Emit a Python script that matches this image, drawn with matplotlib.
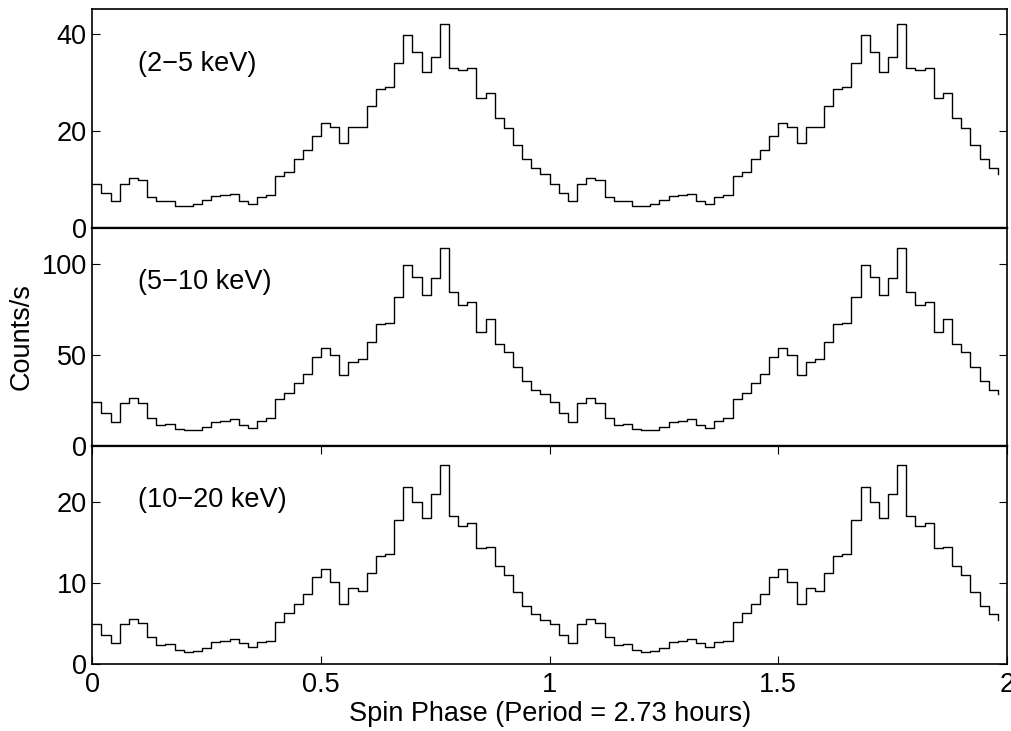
import numpy as np
import matplotlib
matplotlib.use("Agg")
import matplotlib.pyplot as plt

plt.rcParams['font.family'] = ['Liberation Sans', 'DejaVu Sans']

# Folded light curves: 50 phase bins per cycle (bin width 0.02), shown for two cycles
bin_width = 0.02
n_bins = 50

rate_2_5 = [9.0, 7.2, 5.5, 9.0, 10.3, 9.7, 6.3, 5.5, 5.4, 4.4,
            4.5, 4.8, 5.7, 6.6, 6.8, 7.0, 5.4, 4.8, 6.3, 6.8,
            10.7, 11.5, 14.1, 15.9, 18.8, 21.5, 20.8, 17.5, 20.7, 20.8,
            25.0, 28.6, 29.0, 33.9, 39.7, 36.2, 32.1, 35.1, 42.0, 32.8,
            32.5, 32.8, 26.8, 27.7, 22.6, 20.6, 17.0, 14.1, 12.2, 11.0]

rate_5_10 = [24.0, 18.1, 13.3, 23.4, 26.4, 23.4, 15.5, 11.6, 11.8, 9.2,
             8.9, 8.9, 10.3, 13.3, 13.7, 14.8, 11.6, 10.0, 13.5, 15.1,
             25.5, 29.0, 34.7, 39.5, 48.7, 53.9, 50.0, 38.7, 46.3, 47.6,
             57.0, 66.8, 67.5, 81.7, 99.3, 92.6, 82.7, 92.3, 108.9, 84.7,
             77.5, 79.3, 62.5, 69.9, 56.1, 51.3, 43.5, 35.4, 30.6, 28.4]

rate_10_20 = [5.0, 3.6, 2.6, 4.9, 5.6, 5.1, 3.3, 2.3, 2.5, 1.7,
              1.5, 1.6, 2.0, 2.7, 2.8, 3.1, 2.6, 2.1, 2.7, 2.9,
              5.2, 6.3, 7.4, 8.6, 10.8, 11.7, 10.1, 7.4, 9.4, 9.0,
              11.3, 13.4, 13.6, 17.8, 21.9, 20.1, 18.1, 21.0, 24.6, 18.3,
              17.1, 17.5, 14.3, 14.5, 12.1, 11.0, 8.9, 7.2, 6.2, 5.5]

bands = ["(2\u22125 keV)", "(5\u221210 keV)", "(10\u221220 keV)"]
series = [rate_2_5, rate_5_10, rate_10_20]
ylims = [45, 120, 27]
yticks = [[0, 20, 40], [0, 50, 100], [0, 10, 20]]
xticks = [0, 0.5, 1, 1.5, 2]
xticklabels = ["0", "0.5", "1", "1.5", "2"]

phase = np.arange(2 * n_bins) * bin_width

fig = plt.figure(figsize=(10.11, 7.31), dpi=100)
left, right = 0.0913, 0.9960
bottom, top = 0.0917, 0.9873
h = (top - bottom) / 3.0
fs = 19.5

axes = []
for i in range(3):
    ax = fig.add_axes([left, top - (i + 1) * h, right - left, h])
    y = np.tile(series[i], 2)
    ax.step(phase, y, where='post', color='black', lw=1.0)
    ax.set_xlim(0, 2)
    ax.set_ylim(0, ylims[i])
    ax.set_yticks(yticks[i])
    ax.set_yticklabels([str(v) for v in yticks[i]])
    ax.tick_params(axis='y', direction='in', length=6, width=0.8,
                   left=True, right=True, labelsize=fs, pad=4)
    if i < 2:
        ax.set_xticks([])
    else:
        ax.set_xticks(xticks)
        ax.set_xticklabels(xticklabels)
        ax.tick_params(axis='x', direction='in', length=6, width=0.8,
                       top=True, bottom=True, labelsize=fs, pad=6)
    for s in ax.spines.values():
        s.set_linewidth(1.2)
    if i > 0:
        ax.spines['top'].set_linewidth(1.6)
    if i < 2:
        ax.spines['bottom'].set_linewidth(1.6)
    ax.text(0.05, 0.75, bands[i], transform=ax.transAxes, fontsize=fs,
            ha='left', va='center')
    axes.append(ax)

axes[1].set_ylabel("Counts/s", fontsize=fs, labelpad=5)
axes[2].set_xlabel("Spin Phase (Period = 2.73 hours)", fontsize=fs, labelpad=2)

fig.savefig("out.png", dpi=100)
